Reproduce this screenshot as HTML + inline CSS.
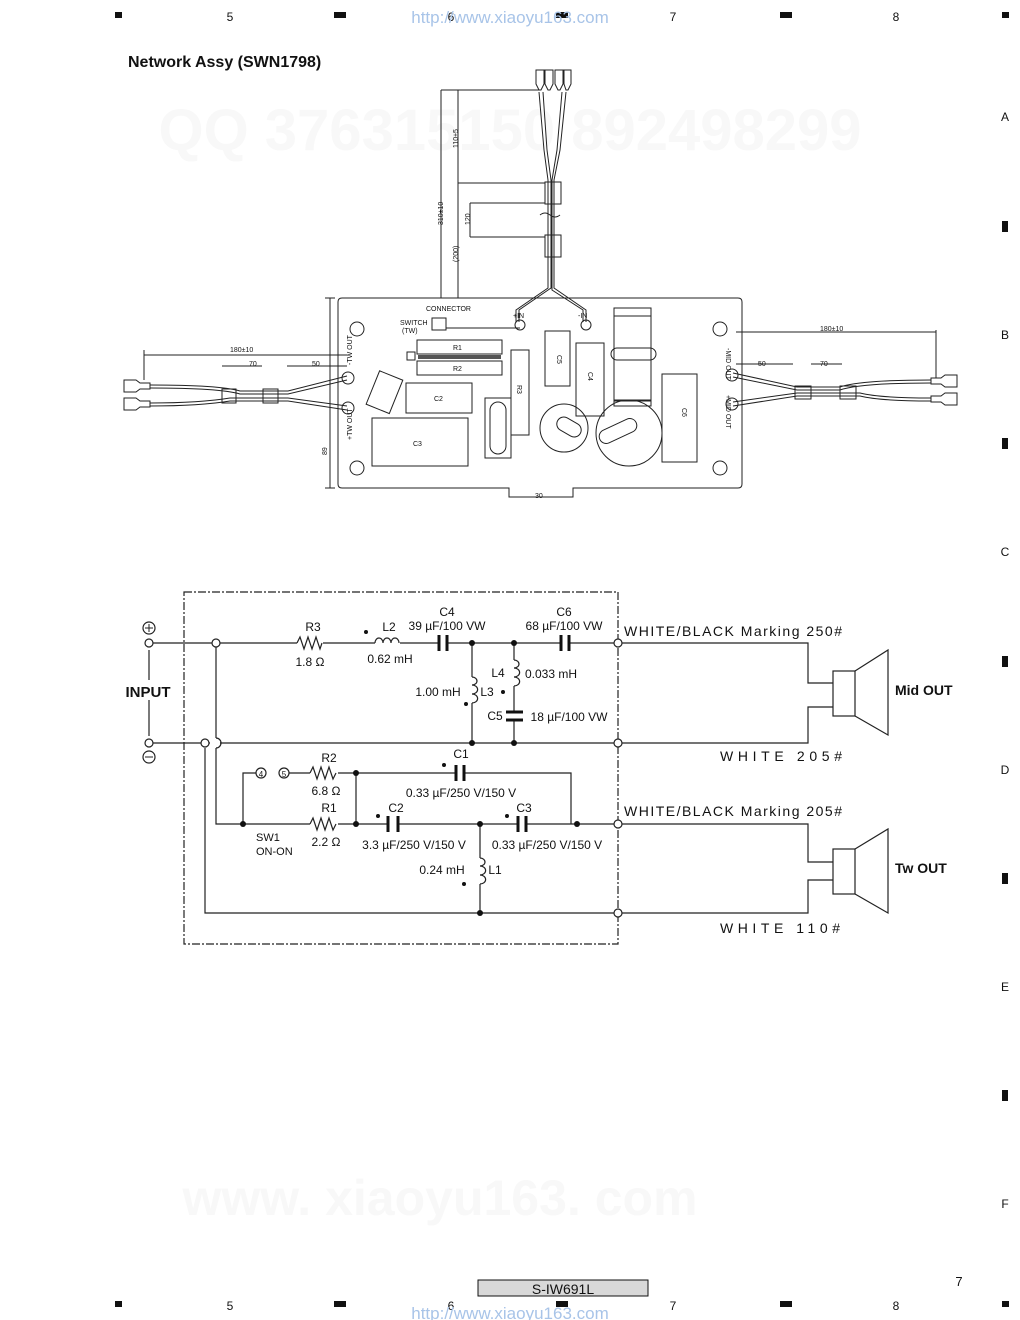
<!DOCTYPE html>
<html><head><meta charset="utf-8"><style>
html,body{margin:0;padding:0;background:#fff}
svg{display:block}
text{font-family:"Liberation Sans",sans-serif;fill:#111}
.m{font-family:"DejaVu Sans Mono","Liberation Mono",monospace}
</style></head><body>
<svg width="1020" height="1320" viewBox="0 0 1020 1320" xmlns="http://www.w3.org/2000/svg">
<g font-size="12" text-anchor="middle">
<rect x="115" y="12" width="7" height="6" fill="#111"/><text x="230" y="21">5</text><rect x="334" y="12" width="12" height="6" fill="#111"/><text x="451" y="21">6</text><rect x="556" y="12" width="12" height="6" fill="#111"/><text x="673" y="21">7</text><rect x="780" y="12" width="12" height="6" fill="#111"/><text x="896" y="21">8</text><rect x="1002" y="12" width="7" height="6" fill="#111"/>
<rect x="115" y="1301" width="7" height="6" fill="#111"/><text x="230" y="1310">5</text><rect x="334" y="1301" width="12" height="6" fill="#111"/><text x="451" y="1310">6</text><rect x="556" y="1301" width="12" height="6" fill="#111"/><text x="673" y="1310">7</text><rect x="780" y="1301" width="12" height="6" fill="#111"/><text x="896" y="1310">8</text><rect x="1002" y="1301" width="7" height="6" fill="#111"/>
<text x="1005" y="121">A</text><rect x="1002" y="221" width="6" height="11" fill="#111"/><text x="1005" y="339">B</text><rect x="1002" y="438" width="6" height="11" fill="#111"/><text x="1005" y="556">C</text><rect x="1002" y="656" width="6" height="11" fill="#111"/><text x="1005" y="774">D</text><rect x="1002" y="873" width="6" height="11" fill="#111"/><text x="1005" y="991">E</text><rect x="1002" y="1090" width="6" height="11" fill="#111"/><text x="1005" y="1208">F</text>
</g>
<text x="510" y="23" font-size="17" text-anchor="middle" style="fill:#a8c4e8">http://www.xiaoyu163.com</text>
<text x="510" y="1319" font-size="17" text-anchor="middle" style="fill:#a8c4e8">http://www.xiaoyu163.com</text>
<text x="510" y="150" font-size="58" font-weight="bold" text-anchor="middle" style="fill:#f8f8f8">QQ 376315150  892498299</text>
<text x="440" y="1215" font-size="50" font-weight="bold" text-anchor="middle" style="fill:#f8f8f8">www. xiaoyu163. com</text>
<text x="128" y="67" font-size="16" font-weight="bold">Network Assy (SWN1798)</text>
<rect x="478" y="1280" width="170" height="16" fill="#d8d8d8" stroke="#111"/>
<text x="563" y="1294" font-size="14" text-anchor="middle">S-IW691L</text>
<text x="959" y="1286" font-size="13" text-anchor="middle">7</text>

<g fill="none" stroke="#222" stroke-width="1">
<path d="M342 298 H738 Q742 298 742 302 V484 Q742 488 738 488 H573 V497 H509 V488 H342 Q338 488 338 484 V302 Q338 298 342 298Z"/>
<circle cx="357" cy="329" r="7"/><circle cx="357" cy="468" r="7"/><circle cx="720" cy="329" r="7"/><circle cx="720" cy="468" r="7"/>
<path d="M536 70 h8 v14 l-3 6 h-2 l-3 -6z M545 70 h8 v14 l-3 6 h-2 l-3 -6z M555 70 h8 v14 l-3 6 h-2 l-3 -6z M564 70 h7 v14 l-3 6 h-2 l-2 -6z"/>
<path d="M539 92 L544 150 L548 180 V288 L516 310 V322 M543 92 L547 150 L551 180 V288 L519 310 V322 M566 92 L560 150 L554 180 V288 L586 310 V322 M562 92 L557 150 L552 180 V290 L583 310 V322"/>
<rect x="545" y="182" width="16" height="22"/><rect x="545" y="235" width="16" height="22"/>
<path d="M441 90 H540 M441 90 V298 M458 183 H545 M470 203 H545 M470 237 H545 M470 203 V237 M458 90 V298 M540 215 q5 -4 10 0 t10 0"/>
<circle cx="520" cy="325" r="5"/><circle cx="586" cy="325" r="5"/>
<path d="M446 328 H520"/>
<rect x="432" y="318" width="14" height="12"/>
<rect x="417" y="340" width="85" height="14"/><rect x="417" y="361" width="85" height="14"/><rect x="407" y="352" width="8" height="8"/>
<path d="M418 357 H501" stroke-width="4" stroke="#555"/>
<rect x="511" y="350" width="18" height="85"/>
<rect x="545" y="331" width="25" height="55"/><rect x="576" y="343" width="28" height="73"/>
<rect x="614" y="308" width="37" height="8"/><rect x="614" y="316" width="37" height="85"/><rect x="614" y="400" width="37" height="6"/>
<rect x="611" y="348" width="45" height="12" rx="6"/>
<rect x="372" y="374" width="25" height="36" transform="rotate(22 384 392)"/>
<rect x="406" y="383" width="66" height="30"/>
<rect x="372" y="418" width="96" height="48"/>
<rect x="485" y="398" width="26" height="60"/><rect x="490" y="402" width="16" height="52" rx="8"/>
<circle cx="564" cy="428" r="24"/><circle cx="629" cy="433" r="33"/>
<rect x="556" y="420" width="26" height="14" rx="7" transform="rotate(30 569 427)"/>
<rect x="598" y="424" width="40" height="14" rx="7" transform="rotate(-25 618 431)"/>
<rect x="662" y="374" width="35" height="88"/>
<path d="M330 298 V488 M325 298 h10 M325 488 h10"/>
<path d="M124 380 h12 l4 3 h10 v6 h-10 l-4 3 h-12z M124 398 h12 l4 3 h10 v6 h-10 l-4 3 h-12z"/>
<path d="M150 385 Q220 385 240 391 H288 L347 376 M150 388 Q220 388 240 394 H288 L347 380 M150 403 Q200 403 230 398 H288 L347 406 M150 406 Q200 406 230 401 H288 L347 410"/>
<rect x="222" y="389" width="14" height="14"/><rect x="263" y="389" width="15" height="14"/>
<circle cx="348" cy="378" r="6"/><circle cx="348" cy="408" r="6"/>
<path d="M144 355 H347 M144 350 v30 M222 366 H262 M287 366 H347"/>
<path d="M957 375 h-12 l-4 3 h-10 v6 h10 l4 3 h12z M957 393 h-12 l-4 3 h-10 v6 h10 l4 3 h12z"/>
<path d="M931 380 Q860 380 840 387 H797 L733 373 M931 383 Q860 383 840 390 H797 L733 377 M931 398 Q880 398 860 393 H797 L733 402 M931 401 Q880 401 860 396 H797 L733 406"/>
<rect x="795" y="386" width="16" height="13"/><rect x="840" y="386" width="16" height="13"/>
<circle cx="732" cy="375" r="6"/><circle cx="732" cy="404" r="6"/>
<path d="M736 332 H936 M936 330 v48 M736 364 H793 M811 364 H842"/>
</g>
<g class="m" font-size="7" fill="#222">
<text x="426" y="311">CONNECTOR</text><text x="400" y="325">SWITCH</text><text x="402" y="333">(TW)</text>
<text x="453" y="350">R1</text><text x="453" y="371">R2</text><text x="434" y="401">C2</text><text x="413" y="446">C3</text>
<text x="820" y="331">180±10</text><text x="230" y="352">180±10</text><text x="249" y="366">70</text><text x="312" y="366">50</text>
<text x="758" y="366">50</text><text x="820" y="366">70</text><text x="535" y="498">30</text>
<text x="513" y="318">+IN</text><text x="578" y="318">-IN</text>
</g>
<g class="m" font-size="7" fill="#222">
<text transform="translate(458,148) rotate(-90)">110±5</text>
<text transform="translate(443,225) rotate(-90)">310±10</text>
<text transform="translate(470,225) rotate(-90)">120</text>
<text transform="translate(458,262) rotate(-90)">(200)</text>
<text transform="translate(327,455) rotate(-90)">89</text>
<text transform="translate(557,355) rotate(90)">C5</text>
<text transform="translate(588,372) rotate(90)">C4</text>
<text transform="translate(517,385) rotate(90)">R3</text>
<text transform="translate(682,408) rotate(90)">C6</text>
<text transform="translate(352,365) rotate(-90)">-TW OUT</text>
<text transform="translate(352,440) rotate(-90)">+TW OUT</text>
<text transform="translate(726,348) rotate(90)">-MID OUT</text>
<text transform="translate(726,395) rotate(90)">+MID OUT</text>
</g>

<rect x="184" y="592" width="434" height="352" fill="none" stroke="#222" stroke-width="1.2" stroke-dasharray="8,2,2,2"/>
<g fill="none" stroke="#222" stroke-width="1.2">
<path d="M149 643 H297 M323 643 H375 M400 643 H439 M447 643 H561 M569 643 H618"/>
<path d="M149 743 H210 M220 743 H618"/>
<path d="M149 650 V680 M149 700 V736"/>
<path d="M216 643 V738 M216 748 V824 H310 M338 824 H388 M398 824 H518 M526 824 H618"/>
<path d="M216 738 A5 5 0 0 1 216 748"/>
<path d="M205 748 V913 H618"/>
<path d="M297 643 l3 -6 l4 12 l4 -12 l4 12 l4 -12 l4 12 l2 -6 M310 773 l3 -6 l4 12 l4 -12 l4 12 l4 -12 l4 12 l3 -6 M310 824 l3 -6 l4 12 l4 -12 l4 12 l4 -12 l4 12 l3 -6"/>
<path d="M375 643 a4 5 0 0 1 8 0 a4 5 0 0 1 8 0 a4 5 0 0 1 8 0"/>
<path d="M472 643 V677 M472 703 V743 M472 677 a5 4 0 0 1 0 8 a5 4 0 0 1 0 9 a5 4 0 0 1 0 9"/>
<path d="M514 643 V660 M514 686 V712 M514 720 V743 M514 660 a5 4 0 0 1 0 8 a5 4 0 0 1 0 9 a5 4 0 0 1 0 9"/>
<path d="M480 824 V858 M480 884 V913 M480 858 a5 4 0 0 1 0 8 a5 4 0 0 1 0 9 a5 4 0 0 1 0 9"/>
<path d="M243 824 V773 H256 M289 773 H310 M338 773 H456 M464 773 H571 V824 M356 773 V824"/>
<path d="M618 643 H808 V683 H833 M618 743 H808 V707 H833 M618 824 H808 V862 H833 M618 913 H808 V880 H833"/>
<rect x="833" y="671" width="22" height="45"/><path d="M855 671 L888 650 V735 L855 716"/>
<rect x="833" y="849" width="22" height="45"/><path d="M855 849 L888 829 V913 L855 894"/>
</g>
<g stroke="#111" stroke-width="3" fill="none">
<path d="M439 635 V651 M447 635 V651 M561 635 V651 M569 635 V651 M456 765 V781 M464 765 V781 M388 816 V832 M398 816 V832 M518 816 V832 M526 816 V832 M506 712 H523 M506 720 H523"/>
</g>
<g fill="#111">
<circle cx="472" cy="643" r="3"/><circle cx="514" cy="643" r="3"/><circle cx="472" cy="743" r="3"/><circle cx="514" cy="743" r="3"/>
<circle cx="356" cy="773" r="3"/><circle cx="356" cy="824" r="3"/><circle cx="243" cy="824" r="3"/><circle cx="480" cy="824" r="3"/><circle cx="577" cy="824" r="3"/><circle cx="480" cy="913" r="3"/>
<circle cx="366" cy="632" r="2"/><circle cx="466" cy="704" r="2"/><circle cx="503" cy="692" r="2"/><circle cx="444" cy="765" r="2"/><circle cx="378" cy="816" r="2"/><circle cx="507" cy="816" r="2"/><circle cx="464" cy="884" r="2"/>
</g>
<g fill="#fff" stroke="#222" stroke-width="1.2">
<circle cx="149" cy="643" r="4"/><circle cx="149" cy="743" r="4"/><circle cx="216" cy="643" r="4"/><circle cx="205" cy="743" r="4"/>
<circle cx="149" cy="628" r="6"/><circle cx="149" cy="757" r="6"/>
<circle cx="261" cy="773" r="5"/><circle cx="284" cy="773" r="5"/>
<circle cx="618" cy="643" r="4"/><circle cx="618" cy="743" r="4"/><circle cx="618" cy="824" r="4"/><circle cx="618" cy="913" r="4"/>
</g>
<path d="M145 628 h8 M149 624 v8 M145 757 h8" stroke="#222"/>
<g font-size="12" text-anchor="middle">
<text x="261" y="777" font-size="8">4</text><text x="284" y="777" font-size="8">5</text>
<text x="313" y="631">R3</text><text x="310" y="666">1.8 Ω</text>
<text x="389" y="631">L2</text><text x="390" y="663">0.62 mH</text>
<text x="447" y="616">C4</text><text x="447" y="630">39 µF/100 VW</text>
<text x="564" y="616">C6</text><text x="564" y="630">68 µF/100 VW</text>
<text x="498" y="677">L4</text><text x="551" y="678">0.033 mH</text>
<text x="438" y="696">1.00 mH</text><text x="487" y="696">L3</text>
<text x="495" y="720">C5</text><text x="569" y="721">18 µF/100 VW</text>
<text x="329" y="762">R2</text><text x="326" y="795">6.8 Ω</text>
<text x="461" y="758">C1</text><text x="461" y="797">0.33 µF/250 V/150 V</text>
<text x="329" y="812">R1</text><text x="326" y="846">2.2 Ω</text>
<text x="396" y="812">C2</text><text x="414" y="849">3.3 µF/250 V/150 V</text>
<text x="524" y="812">C3</text><text x="547" y="849">0.33 µF/250 V/150 V</text>
<text x="442" y="874">0.24 mH</text><text x="495" y="874">L1</text>
<text x="148" y="697" font-size="15" font-weight="bold">INPUT</text>
</g>
<text x="895" y="695" font-size="14" font-weight="bold">Mid OUT</text>
<text x="895" y="873" font-size="14" font-weight="bold">Tw OUT</text>
<g class="m" font-size="14">
<text x="256" y="841" font-size="11">SW1</text><text x="256" y="855" font-size="11">ON-ON</text>
<text x="624" y="636" textLength="218">WHITE/BLACK Marking 250#</text>
<text x="720" y="761" textLength="122">WHITE 205#</text>
<text x="624" y="816" textLength="218">WHITE/BLACK Marking 205#</text>
<text x="720" y="933" textLength="120">WHITE 110#</text>
</g>
</svg>
</body></html>
